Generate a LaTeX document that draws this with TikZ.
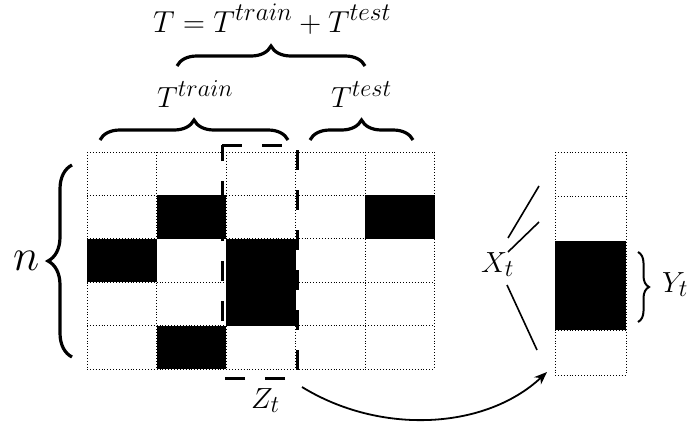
\documentclass[tikz,border=0pt]{standalone}
\usepackage{graphicx}
\usetikzlibrary{decorations.pathreplacing,arrows.meta}
\newcommand{\scaledmath}[2]{\scalebox{#1}{$#2$}}
\begin{document}
\begin{tikzpicture}[x=1pt,y=-1pt,
  lbl/.style={inner sep=0pt,anchor=base west,font=\fontsize{24.88}{30}\selectfont},
  bigbrace/.style={decorate,decoration={brace,amplitude=#1},line width=3.2pt},
  gridline/.style={dotted,line width=0.9pt},
  cellfill/.style={fill=black},
  ztbox/.style={line width=3pt,dash pattern=on 20pt off 20pt},
  xtline/.style={line width=1.6pt},
  flow/.style={line width=1.8pt,-{Stealth[length=13pt,width=10pt]}}]
\useasboundingbox (0,0) rectangle (687,423);
% filled cells of the main grid
\foreach \c/\r in {1/1,4/1,0/2,2/2,2/3,1/4}
  \fill[cellfill] ({87+69.5*\c},{152+43.4*\r}) rectangle ({87+69.5*(\c+1)},{152+43.4*(\r+1)});
% main grid
\foreach \i in {0,...,5} \draw[gridline] ({87+69.5*\i},152) -- ({87+69.5*\i},369);
\foreach \j in {0,...,5} \draw[gridline] (87,{152+43.4*\j}) -- (434.5,{152+43.4*\j});
% Z_t dashed box
\draw[ztbox] (222,145) -- (297,145) -- (297,378) -- (222,378) -- cycle;
% right column
\fill[cellfill] (555,241.2) rectangle (626,330.4);
\foreach \j in {0,1,2,4,5} \draw[gridline] (555,{152+44.6*\j}) -- (626,{152+44.6*\j});
\draw[gridline] (555,152) -- (555,375);
\draw[gridline] (626,152) -- (626,375);
% braces
\draw[bigbrace=24pt] (72,357) -- (72,165);
\draw[bigbrace=20pt] (100,140) -- (288,140);
\draw[bigbrace=20pt] (310,140) -- (413,140);
\draw[bigbrace=20pt] (177,66) -- (365,66);
\draw[bigbrace=11pt,line width=2pt] (638,252) -- (638,322);
% labels
\node[lbl] (tall) at (153,32) {\scaledmath{1.22}{T=T^{train}+T^{test}}};
\node[lbl] (ttrain) at (157,107) {\scaledmath{1.17}{T^{train}}};
\node[lbl] (ttest) at (331,107) {\scaledmath{1.17}{T^{test}}};
\node[lbl] (n) at (13,270) {\scaledmath{1.8}{n}};
\node[lbl] (xt) at (481,272) {\scaledmath{1.17}{X_t}};
\node[lbl] (yt) at (662,292) {\scaledmath{1.17}{Y_t}};
\node[lbl] (zt) at (251,408) {\scaledmath{1.17}{Z_t}};
% X_t lines
\coordinate (a1) at (539,186); \coordinate (a2) at (508,238);
\coordinate (b1) at (539,222); \coordinate (b2) at (508,252);
\coordinate (c1) at (507,285); \coordinate (c2) at (537,350);
\draw[xtline] (a1) -- (a2);
\draw[xtline] (b1) -- (b2);
\draw[xtline] (c1) -- (c2);
% arrow
\coordinate (s) at (302,387);
\coordinate (e) at (547,372);
\draw[flow] (s) .. controls (380,435) and (485,430) .. (e);
\end{tikzpicture}
\end{document}
